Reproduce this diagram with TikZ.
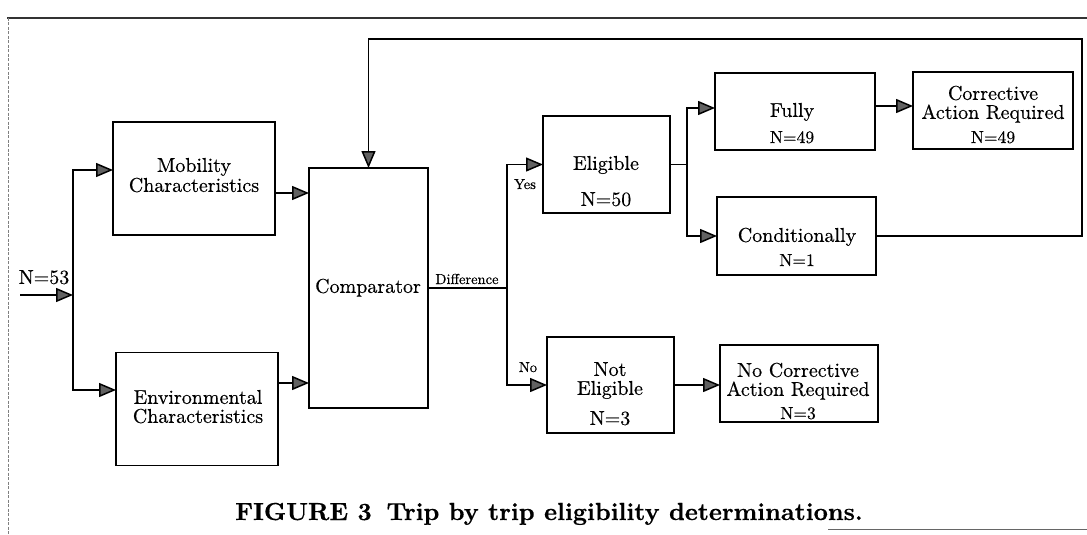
\documentclass[tikz,border=0pt]{standalone}
\usepackage{fontspec}
\setmainfont{lmroman10-regular.otf}[BoldFont=lmroman10-bold.otf, FakeBold=0.45]
\usetikzlibrary{arrows.meta}
\begin{document}
\begin{tikzpicture}[x=1pt,y=-1pt,
  box/.style={draw, line width=1.5pt, rectangle, inner sep=0pt, outer sep=0pt},
  tx/.style={inner sep=0pt, text height=13.7pt, text depth=0pt, font=\fontsize{20}{23}\selectfont},
  sm/.style={inner sep=0pt, text height=12pt, text depth=0pt, font=\fontsize{17.5}{20}\selectfont},
  tinytx/.style={inner sep=0pt, text height=10pt, text depth=0pt, font=\fontsize{14.5}{16}\selectfont},
  con/.style={line width=1.5pt},
  arr/.style={con, -{Triangle[length=17pt,width=14pt,fill=black!62]}}]
\useasboundingbox (0,0) rectangle (1087,535);
% frame
\draw[line width=1.2pt, black!80] (7,18) -- (1087,18);
\draw[line width=0.6pt, black!50, dash pattern=on 3pt off 1.5pt] (8,18) -- (8,535);
\draw[line width=0.8pt, black!60] (828,529) -- (1087,529);
% boxes
\node[box, minimum width=162pt, minimum height=113pt] (mob) at (194,178.5) {};
\node[box, minimum width=162pt, minimum height=113pt] (env) at (197,409) {};
\node[box, minimum width=119pt, minimum height=240pt] (comp) at (368.5,288) {};
\node[box, minimum width=127pt, minimum height=97pt] (elig) at (606.5,164.5) {};
\node[box, minimum width=127pt, minimum height=96pt] (nelig) at (610.5,385) {};
\node[box, minimum width=160pt, minimum height=77pt] (fully) at (795,111.5) {};
\node[box, minimum width=160pt, minimum height=77pt] (corr) at (993,110.5) {};
\node[box, minimum width=159pt, minimum height=78pt] (cond) at (796.5,236) {};
\node[box, minimum width=158pt, minimum height=77pt] (nocorr) at (799,383.5) {};
% texts
\node[tx] (mobA) at (194,165) {Mobility};
\node[tx] (mobB) at (194,185) {Characteristics};
\node[tx] (envA) at (198,397) {Environmental};
\node[tx] (envB) at (198,416) {Characteristics};
\node[tx] (compA) at (368,286) {Comparator};
\node[tx] (eligA) at (606,163) {Eligible};
\node[tx] (eligB) at (606,199) {N=50};
\node[tx] (neligA) at (610,369) {Not};
\node[tx] (neligB) at (610,388) {Eligible};
\node[tx] (neligC) at (610,418) {N=3};
\node[tx] (fullyA) at (792,110) {Fully};
\node[sm] (fullyB) at (792,137) {N=49};
\node[tx] (corrA) at (993,93) {Corrective};
\node[tx] (corrB) at (993,112) {Action Required};
\node[sm] (corrC) at (993,137) {N=49};
\node[tx] (condA) at (797,235) {Conditionally};
\node[sm] (condB) at (797,260) {N=1};
\node[tx] (nocA) at (798,370) {No Corrective};
\node[tx] (nocB) at (798,389) {Action Required};
\node[sm] (nocC) at (798,413) {N=3};
\node[tx] (n53) at (44,277) {N=53};
\node[tinytx] (diff) at (467,279) {Difference};
\node[tinytx] (yes) at (525,184) {Yes};
\node[tinytx] (no) at (528,367) {No};
% connectors
\coordinate (in) at (20,295);
\coordinate (jn) at (73,295);
\draw[arr] (in) -- (jn);
\draw[arr] (jn) |- ([yshift=8.5pt]mob.west);
\draw[arr] (jn) |- ([yshift=19pt]env.west);
\path ([yshift=-14.5pt]mob.east) coordinate (m1);
\path ([yshift=26pt]env.east) coordinate (e1);
\draw[arr] (m1) -- (m1 -| comp.west);
\draw[arr] (e1) -- (e1 -| comp.west);
\coordinate (dj) at (507,288);
\draw[con] (comp.east) -- (dj);
\draw[arr] (dj) |- (elig.west);
\draw[arr] (dj) |- (nelig.west);
\coordinate (ej) at (687,164.5);
\draw[con] (elig.east) -- (ej);
\draw[arr] (ej) |- ([yshift=3.5pt]fully.west);
\draw[arr] (ej) |- (cond.west);
\path ([yshift=5.5pt]fully.east) coordinate (f1);
\draw[arr] (f1) -- (f1 -| corr.west);
\draw[arr] (nelig.east) -- (nelig.east -| nocorr.west);
\coordinate (fb1) at (1082,236);
\coordinate (fb2) at (1082,39);
\coordinate (fb3) at (368.5,39);
\draw[arr] (cond.east) -- (fb1) -- (fb2) -- (fb3) -- (comp.north);
% caption
\node[inner sep=0pt, anchor=base, font=\fontsize{24.7}{28}\selectfont\bfseries] (cap) at (549,520) {FIGURE 3\hspace{0.6em}Trip by trip eligibility determinations.};
\end{tikzpicture}
\end{document}
